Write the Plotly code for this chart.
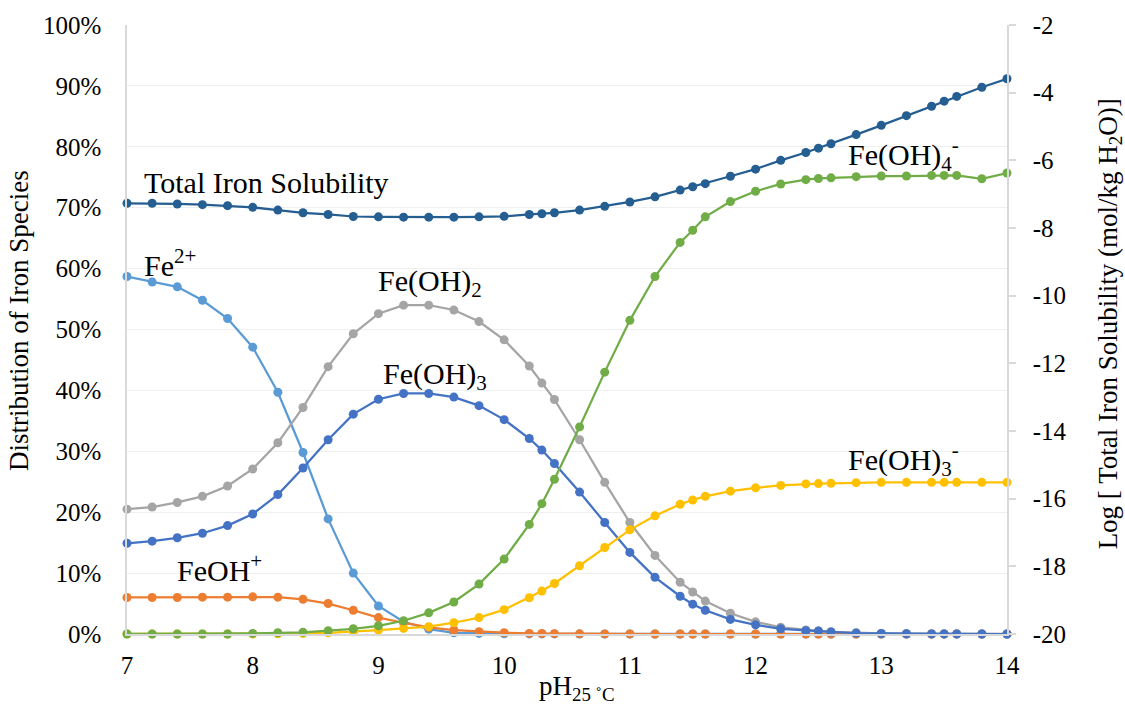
import plotly.graph_objects as go

ph = [7.0, 7.2, 7.4, 7.6, 7.8, 8.0, 8.2, 8.4, 8.6, 8.8, 9.0, 9.2, 9.4, 9.6, 9.8, 10.0,
      10.2, 10.3, 10.4,
      10.6, 10.8, 11.0, 11.2, 11.4, 11.5, 11.6,
      11.8, 12.0, 12.2, 12.4, 12.5, 12.6,
      12.8, 13.0, 13.2, 13.4, 13.5, 13.6, 13.8, 14.0]

fe2 = [58.7, 57.8, 57.0, 54.8, 51.8, 47.1, 39.7, 29.8, 18.9, 10.0, 4.6, 2.0, 0.8, 0.2, 0.1, 0.05,
       0.02, 0.01, 0.01,
       0, 0, 0, 0, 0, 0, 0,
       0, 0, 0, 0, 0, 0,
       0, 0, 0, 0, 0, 0, 0, 0]

feoh = [6.0, 6.0, 6.0, 6.05, 6.05, 6.1, 6.05, 5.7, 5.0, 3.9, 2.7, 1.85, 1.1, 0.65, 0.38, 0.22,
        0.1, 0.08, 0.06,
        0.03, 0.02, 0.01, 0, 0, 0, 0,
        0, 0, 0, 0, 0, 0,
        0, 0, 0, 0, 0, 0, 0, 0]

feoh2 = [20.5, 20.85, 21.6, 22.6, 24.3, 27.1, 31.4, 37.2, 43.9, 49.3, 52.6, 54.0, 54.0, 53.2, 51.3, 48.3,
         44.0, 41.2, 38.5,
         31.9, 24.9, 18.3, 12.9, 8.5, 6.9, 5.4,
         3.4, 2.0, 1.1, 0.65, 0.5, 0.37,
         0.2, 0.1, 0.05, 0.02, 0.02, 0.01, 0, 0]

feoh3 = [14.9, 15.25, 15.8, 16.55, 17.8, 19.7, 22.9, 27.25, 31.9, 36.1, 38.55, 39.5, 39.5, 38.9, 37.5, 35.2,
         32.1, 30.2, 28.0,
         23.3, 18.3, 13.4, 9.3, 6.2, 4.9, 3.9,
         2.4, 1.5, 0.86, 0.54, 0.49, 0.33,
         0.15, 0.08, 0.04, 0.02, 0.01, 0.01, 0, 0]

feoh3m = [0, 0, 0, 0, 0, 0, 0.05, 0.1, 0.2, 0.38, 0.65, 0.92, 1.2, 1.85, 2.7, 4.0,
          5.95, 7.05, 8.3,
          11.2, 14.2, 17.1, 19.4, 21.3, 22.0, 22.6,
          23.45, 24.0, 24.4, 24.65, 24.7, 24.75,
          24.85, 24.9, 24.9, 24.9, 24.9, 24.9, 24.9, 24.9]

feoh4m = [0, 0, 0, 0, 0, 0.1, 0.2, 0.28, 0.54, 0.86, 1.35, 2.17, 3.47, 5.26, 8.19, 12.3,
          18.0, 21.4, 25.4,
          34.0, 43.0, 51.5, 58.7, 64.3, 66.3, 68.5,
          71.0, 72.7, 73.9, 74.6, 74.8, 74.9,
          75.1, 75.2, 75.2, 75.3, 75.3, 75.3, 74.75, 75.7]

total_log = [-7.27, -7.27, -7.29, -7.31, -7.34, -7.39, -7.47, -7.55, -7.60, -7.66, -7.67, -7.68, -7.68, -7.68, -7.67, -7.655,
             -7.60, -7.58, -7.55,
             -7.47, -7.36, -7.23, -7.08, -6.88, -6.78, -6.69,
             -6.47, -6.26, -6.00, -5.77, -5.64, -5.51,
             -5.24, -4.965, -4.68, -4.40, -4.25, -4.11, -3.84, -3.59]

right_tickvals = [-20, -18, -16, -14, -12, -10, -8, -6, -4, -2]
right_ticktext = ["-20", "-18", "-16", "-14", "-12", "-10", "-8", "-6", "-4", "-2"]

series = [
    ("Fe2+", fe2, "#5B9BD5"),
    ("FeOH+", feoh, "#ED7D31"),
    ("Fe(OH)2", feoh2, "#A5A5A5"),
    ("Fe(OH)3", feoh3, "#4472C4"),
    ("Fe(OH)3-", feoh3m, "#FFC000"),
    ("Fe(OH)4-", feoh4m, "#70AD47"),
]

FONT = "Liberation Serif"

fig = go.Figure()
for name, vals, col in series:
    fig.add_trace(go.Scatter(x=ph, y=vals, name=name, mode="lines+markers",
                             line=dict(color=col, width=2.25),
                             marker=dict(color=col, size=9),
                             cliponaxis=False, yaxis="y"))
fig.add_trace(go.Scatter(x=ph, y=total_log, name="Total", mode="lines+markers",
                         line=dict(color="#255E91", width=2.25),
                         marker=dict(color="#255E91", size=9),
                         cliponaxis=False, yaxis="y2"))

labels = [
    ("Total Iron Solubility", 7.12, 74.2),
    ("Fe<sup>2+</sup>", 7.12, 60.9),
    ("Fe(OH)<sub>2</sub>", 8.98, 57.6),
    ("Fe(OH)<sub>3</sub>", 9.02, 42.3),
    ("FeOH<sup>+</sup>", 7.38, 10.8),
    ("Fe(OH)<sub>4</sub><sup>-</sup>", 12.72, 78.8),
    ("Fe(OH)<sub>3</sub><sup>-</sup>", 12.72, 28.6),
]
annotations = []
for txt, xv, yv in labels:
    annotations.append(dict(text=txt, x=xv, y=yv, xref="x", yref="y",
                            xanchor="left", yanchor="middle", showarrow=False,
                            font=dict(family=FONT, size=30, color="black")))

annotations += [
    dict(text="Distribution of Iron Species", x=-0.122, y=0.515, xref="paper", yref="paper",
         showarrow=False, textangle=-90, xanchor="center", yanchor="middle",
         font=dict(family=FONT, size=27, color="black")),
    dict(text="pH<sub>25 ˚C</sub>", x=0.511, y=-0.088, xref="paper", yref="paper",
         showarrow=False, xanchor="center", yanchor="middle",
         font=dict(family=FONT, size=27, color="black")),
    dict(text="Log [ Total Iron Solubility (mol/kg H<sub>2</sub>O)]", x=1.117, y=0.51,
         xref="paper", yref="paper", showarrow=False, textangle=-90,
         xanchor="center", yanchor="middle",
         font=dict(family=FONT, size=27, color="black")),
]

fig.update_layout(
    width=1125, height=704,
    margin=dict(l=127, r=118, t=20, b=70),
    paper_bgcolor="white", plot_bgcolor="white",
    showlegend=False,
    font=dict(family=FONT, size=25, color="black"),
    xaxis=dict(range=[7, 14], dtick=1, tick0=7, showgrid=False, zeroline=False,
               showline=True, linecolor="#D9D9D9", linewidth=1.5,
               ticks="", ticklabelstandoff=8,
               tickfont=dict(family=FONT, size=25, color="black")),
    yaxis=dict(range=[0, 100], dtick=10, ticksuffix="%", showgrid=True,
               gridcolor="#EFEFEF", gridwidth=1, zeroline=False,
               showline=True, linecolor="#D9D9D9", linewidth=1.5,
               ticks="", ticklabelstandoff=19,
               tickfont=dict(family=FONT, size=25, color="black")),
    yaxis2=dict(range=[-20, -2], tickvals=right_tickvals, ticktext=right_ticktext,
                overlaying="y", side="right",
                showgrid=False, zeroline=False, showline=True,
                linecolor="#D9D9D9", linewidth=1.5,
                ticks="outside", ticklen=7, tickcolor="#D9D9D9", tickwidth=1.5,
                ticklabelstandoff=12,
                tickfont=dict(family=FONT, size=25, color="black")),
    annotations=annotations,
)

fig.write_html("out.html")
